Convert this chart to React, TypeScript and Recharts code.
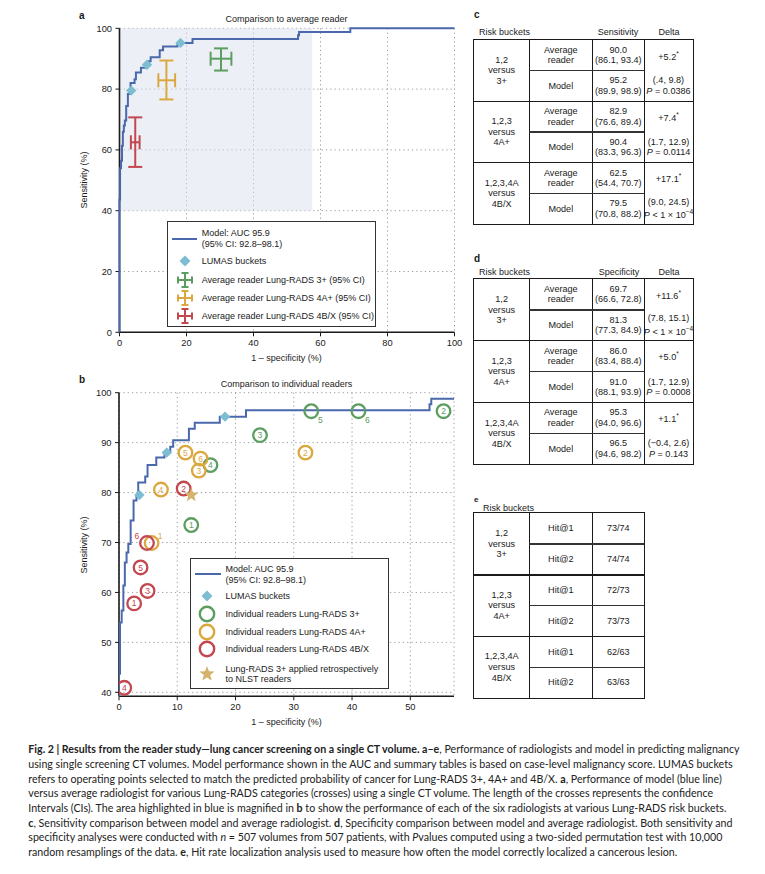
import React from "react";
import {
  ComposedChart,
  Scatter,
  XAxis,
  YAxis,
  CartesianGrid,
  ReferenceArea,
  ErrorBar,
} from "recharts";

const FONT = "'Liberation Sans', Arial, sans-serif";
const CAPTION_FONT = "Lato, 'Open Sans', sans-serif";
const BLUE = "#4a68ac";
const DIAMOND = "#7dbdd2";
const GREEN = "#5c9e5f";
const GOLD = "#dba83f";
const RED = "#c2474f";
const STAR = "#d4b36e";
const INK = "#1a1a1a";

// model ROC curve: [1 - specificity, sensitivity]
const ROC_STEPS: [number, number][] = [
  [0, 0], [0, 43.7], [0.17, 43.7], [0.17, 54.0], [0.46, 54.0], [0.46, 56.4],
  [0.75, 56.4], [0.75, 61.4], [1.0, 61.4], [1.0, 66.0], [1.3, 66.0], [1.3, 68.0],
  [1.6, 68.0], [1.6, 69.7], [2.0, 69.7], [2.0, 74.4], [2.5, 74.4], [2.5, 78.4],
  [3.0, 78.4], [3.0, 79.5], [3.3, 79.5], [3.3, 82.0], [4.5, 82.0], [4.5, 83.2],
  [4.9, 83.2], [4.9, 85.5], [6.4, 85.5], [6.4, 87.0], [7.8, 87.0], [7.8, 88.0],
  [8.8, 88.0], [8.8, 89.2], [9.3, 89.2], [9.3, 90.5], [12.0, 90.5], [12.0, 92.8],
  [13.0, 92.8], [13.0, 94.0], [17.3, 94.0], [17.3, 95.2], [21.8, 95.2], [21.8, 96.5],
  [53.3, 96.5], [53.3, 97.7], [53.6, 97.7], [53.6, 98.8], [68.9, 98.8], [68.9, 100],
  [100, 100],
];

// LUMAS operating points
const LUMAS_FPR = [3.5, 8.2, 18.2];
const LUMAS_SENS = [79.5, 88.0, 95.2];

// risk buckets
const BUCKETS = [
  ["1,2", "versus", "3+"],
  ["1,2,3", "versus", "4A+"],
  ["1,2,3,4A", "versus", "4B/X"],
];
const BUCKET_KEYS = ["3+", "4A+", "4B/X"];

// table c: sensitivity
const SENS_READER = [90.0, 82.9, 62.5];
const SENS_READER_CI = [[86.1, 93.4], [76.6, 89.4], [54.4, 70.7]];
const SENS_MODEL = [95.2, 90.4, 79.5];
const SENS_MODEL_CI = [[89.9, 98.9], [83.3, 96.3], [70.8, 88.2]];
const SENS_DELTA = ["+5.2", "+7.4", "+17.1"];
const SENS_DELTA_CI = ["(.4, 9.8)", "(1.7, 12.9)", "(9.0, 24.5)"];
const SENS_P = ["= 0.0386", "= 0.0114", "<1e-4"];

// table d: specificity
const SPEC_READER = [69.7, 86.0, 95.3];
const SPEC_READER_CI = [[66.6, 72.8], [83.4, 88.4], [94.0, 96.6]];
const SPEC_MODEL = [81.3, 91.0, 96.5];
const SPEC_MODEL_CI = [[77.3, 84.9], [88.1, 93.9], [94.6, 98.2]];
const SPEC_DELTA = ["+11.6", "+5.0", "+1.1"];
const SPEC_DELTA_CI = ["(7.8, 15.1)", "(1.7, 12.9)", "(\u22120.4, 2.6)"];
const SPEC_P = ["<1e-4", "= 0.0008", "= 0.143"];

// table e: hit rate
const HIT_LABELS = ["Hit@1", "Hit@2"];
const HIT_RATES = [["73/74", "74/74"], ["72/73", "73/73"], ["62/63", "63/63"]];

// individual readers (panel b), reader ids 1..6
const READER_IDS = [1, 2, 3, 4, 5, 6];
const R3_FPR = [12.4, 55.7, 24.2, 15.7, 33.0, 41.1];
const R3_SENS = [73.5, 96.3, 91.5, 85.5, 96.3, 96.3];
const R4A_FPR = [5.6, 32.0, 13.7, 7.2, 11.4, 14.0];
const R4A_SENS = [69.9, 88.0, 84.4, 80.6, 88.0, 86.8];
const R4B_FPR = [2.6, 11.1, 4.9, 0.9, 3.7, 4.8];
const R4B_SENS = [57.8, 80.8, 60.3, 40.9, 65.0, 69.9];
const NLST_FPR = [12.4];
const NLST_SENS = [79.5];

const A_TICKS = [0, 20, 40, 60, 80, 100];
const B_X_TICKS = [0, 10, 20, 30, 40, 50];
const B_Y_TICKS = [40, 50, 60, 70, 80, 90, 100];

// reader numbers drawn beside the circle instead of inside it
const LABEL_OFFSET: Record<string, [number, number]> = {
  "3+-5": [9, 9],
  "3+-6": [9, 9],
  "4A+-1": [8.5, -7],
  "4B/X-6": [-10, -7],
};

const roc = ROC_STEPS.map(([x, y]) => ({ x, y }));
const lumas = LUMAS_FPR.map((x, i) => ({ x, y: LUMAS_SENS[i] }));
const crosses = SENS_READER.map((s, i) => {
  const fpr = +(100 - SPEC_READER[i]).toFixed(1);
  return {
    x: fpr,
    y: s,
    ex: [fpr - (100 - SPEC_READER_CI[i][1]), 100 - SPEC_READER_CI[i][0] - fpr],
    ey: [s - SENS_READER_CI[i][0], SENS_READER_CI[i][1] - s],
  };
});
const toReaders = (fpr: number[], sens: number[], group: string) =>
  READER_IDS.map((id, i) => ({ x: fpr[i], y: sens[i], id, group }));
const readers3 = toReaders(R3_FPR, R3_SENS, "3+");
const readers4A = toReaders(R4A_FPR, R4A_SENS, "4A+");
const readers4B = toReaders(R4B_FPR, R4B_SENS, "4B/X");
const nlst = NLST_FPR.map((x, i) => ({ x, y: NLST_SENS[i] }));

const CROSS_COLORS = [GREEN, GOLD, RED];

const blank = () => <g />;

function Diamond(props: any) {
  const { cx, cy } = props;
  const r = 5.2;
  return (
    <polygon
      points={`${cx},${cy - r} ${cx + r},${cy} ${cx},${cy + r} ${cx - r},${cy}`}
      fill={DIAMOND}
    />
  );
}

function starPoints(cx: number, cy: number, ro: number, ri: number) {
  const pts: string[] = [];
  for (let i = 0; i < 10; i++) {
    const r = i % 2 === 0 ? ro : ri;
    const a = -Math.PI / 2 + (i * Math.PI) / 5;
    pts.push(`${cx + r * Math.cos(a)},${cy + r * Math.sin(a)}`);
  }
  return pts.join(" ");
}

function Star(props: any) {
  return <polygon points={starPoints(props.cx, props.cy, 7.5, 3.2)} fill={STAR} />;
}

function ReaderCircle(props: any) {
  const { cx, cy, payload, color } = props;
  const off = LABEL_OFFSET[`${payload.group}-${payload.id}`];
  return (
    <g>
      <circle cx={cx} cy={cy} r={6.8} fill="none" stroke={color} strokeWidth={2.3} />
      <text
        x={cx + (off ? off[0] : 0)}
        y={cy + (off ? off[1] : 0)}
        dy="0.36em"
        textAnchor="middle"
        fontSize={8.5}
        fontFamily={FONT}
        fill={color}
      >
        {payload.id}
      </text>
    </g>
  );
}

const tickStyle = { fontSize: 9.3, fill: INK, fontFamily: FONT };
const axisLine = { stroke: INK, strokeWidth: 1.6 };

function PanelA() {
  return (
    <ComposedChart width={470} height={370} margin={{ top: 28.3, right: 15.5, bottom: 0, left: 0 }}>
      <ReferenceArea x1={0} x2={57.5} y1={40} y2={100} fill="#d9e1ee" fillOpacity={0.5} stroke="none" />
      <CartesianGrid stroke="#a0a0a0" strokeDasharray="1.3 3" />
      <XAxis
        type="number"
        dataKey="x"
        domain={[0, 100]}
        ticks={A_TICKS}
        tick={tickStyle}
        axisLine={axisLine}
        tickLine={{ stroke: INK }}
        tickSize={4}
        tickMargin={3}
        height={37.7}
      />
      <YAxis
        type="number"
        dataKey="y"
        domain={[0, 100]}
        ticks={A_TICKS}
        tick={tickStyle}
        axisLine={axisLine}
        tickLine={{ stroke: INK }}
        tickSize={4}
        tickMargin={3.5}
        width={119.5}
      />
      <Scatter data={roc} line={{ stroke: BLUE, strokeWidth: 2 }} lineType="joint" shape={blank} isAnimationActive={false} />
      <Scatter data={lumas} shape={Diamond} isAnimationActive={false} />
      {crosses.map((c, i) => (
        <Scatter key={i} data={[c]} shape={blank} isAnimationActive={false}>
          <ErrorBar dataKey="ex" direction="x" width={7} stroke={CROSS_COLORS[i]} strokeWidth={2} isAnimationActive={false} />
          <ErrorBar dataKey="ey" direction="y" width={7} stroke={CROSS_COLORS[i]} strokeWidth={2} isAnimationActive={false} />
        </Scatter>
      ))}
    </ComposedChart>
  );
}

function PanelB() {
  return (
    <ComposedChart width={470} height={370} margin={{ top: 32.7, right: 16, bottom: 0, left: 0 }}>
      <CartesianGrid stroke="#a0a0a0" strokeDasharray="1.3 3" />
      <XAxis
        type="number"
        dataKey="x"
        domain={[0, 57.5]}
        allowDataOverflow
        ticks={B_X_TICKS}
        tick={tickStyle}
        axisLine={axisLine}
        tickLine={{ stroke: INK }}
        tickSize={4}
        tickMargin={3}
        height={33.7}
      />
      <YAxis
        type="number"
        dataKey="y"
        domain={[39.2, 100]}
        allowDataOverflow
        ticks={B_Y_TICKS}
        tick={tickStyle}
        axisLine={axisLine}
        tickLine={{ stroke: INK }}
        tickSize={4}
        tickMargin={3.5}
        width={119}
      />
      <Scatter data={roc} line={{ stroke: BLUE, strokeWidth: 2 }} lineType="joint" shape={blank} isAnimationActive={false} />
      <Scatter data={lumas} shape={Diamond} isAnimationActive={false} />
      <Scatter data={readers3} shape={(p: any) => <ReaderCircle {...p} color={GREEN} />} isAnimationActive={false} />
      <Scatter data={readers4A} shape={(p: any) => <ReaderCircle {...p} color={GOLD} />} isAnimationActive={false} />
      <Scatter data={readers4B} shape={(p: any) => <ReaderCircle {...p} color={RED} />} isAnimationActive={false} />
      <Scatter data={nlst} shape={Star} isAnimationActive={false} />
    </ComposedChart>
  );
}

// ---------- small html helpers ----------

const abs = (left: number, top: number, extra: React.CSSProperties = {}): React.CSSProperties => ({
  position: "absolute",
  left,
  top,
  ...extra,
});

function Txt({ x, y, children, bold, size = 9, anchor = "left", rotate }: any) {
  const tx = anchor === "center" ? "-50%" : "0";
  return (
    <div
      style={abs(x, y, {
        fontFamily: FONT,
        fontSize: size,
        fontWeight: bold ? "bold" : "normal",
        color: INK,
        whiteSpace: "nowrap",
        lineHeight: "12px",
        transform: rotate
          ? `translate(-50%, -50%) rotate(${rotate}deg)`
          : `translate(${tx}, -50%)`,
      })}
    >
      {children}
    </div>
  );
}

function LineIcon({ x, y, w }: any) {
  return <div style={abs(x, y - 1, { width: w, height: 2.2, background: BLUE })} />;
}

function CrossIcon({ x, y, color }: any) {
  return (
    <svg style={abs(x - 8, y - 8)} width={16} height={16}>
      <g stroke={color} strokeWidth={2}>
        <line x1={8} y1={1} x2={8} y2={15} />
        <line x1={1} y1={8} x2={15} y2={8} />
        <line x1={4.5} y1={1} x2={11.5} y2={1} />
        <line x1={4.5} y1={15} x2={11.5} y2={15} />
        <line x1={1} y1={4.5} x2={1} y2={11.5} />
        <line x1={15} y1={4.5} x2={15} y2={11.5} />
      </g>
    </svg>
  );
}

function ShapeIcon({ x, y, kind, color }: any) {
  return (
    <svg style={abs(x - 9, y - 9)} width={18} height={18}>
      {kind === "diamond" && <polygon points="9,3.5 14.5,9 9,14.5 3.5,9" fill={DIAMOND} />}
      {kind === "circle" && <circle cx={9} cy={9} r={7.2} fill="none" stroke={color} strokeWidth={2.4} />}
      {kind === "star" && <polygon points={starPoints(9, 9, 8, 3.4)} fill={STAR} />}
    </svg>
  );
}

const legendBox: React.CSSProperties = {
  border: "1.4px solid #333",
  boxSizing: "border-box",
  background: "#fff",
  zIndex: 5,
};

function LegendA() {
  const rows = [
    { label: "Average reader Lung-RADS 3+ (95% CI)", color: GREEN, y: 57.7 },
    { label: "Average reader Lung-RADS 4A+ (95% CI)", color: GOLD, y: 75.7 },
    { label: "Average reader Lung-RADS 4B/X (95% CI)", color: RED, y: 93.7 },
  ];
  return (
    <div style={abs(166.7, 221, { width: 209.3, height: 105.7, ...legendBox })}>
      <LineIcon x={4.5} y={16.5} w={25} />
      <Txt x={34} y={11}>Model: AUC 95.9</Txt>
      <Txt x={34} y={22}>(95% CI: 92.8–98.1)</Txt>
      <ShapeIcon x={17} y={39.2} kind="diamond" />
      <Txt x={34} y={39.2}>LUMAS buckets</Txt>
      {rows.map((r) => (
        <React.Fragment key={r.label}>
          <CrossIcon x={17} y={r.y} color={r.color} />
          <Txt x={34} y={r.y}>{r.label}</Txt>
        </React.Fragment>
      ))}
    </div>
  );
}

function LegendB() {
  const rows = [
    { label: "Individual readers Lung-RADS 3+", color: GREEN, y: 55.2 },
    { label: "Individual readers Lung-RADS 4A+", color: GOLD, y: 72.6 },
    { label: "Individual readers Lung-RADS 4B/X", color: RED, y: 90 },
  ];
  return (
    <div style={abs(190, 558.3, { width: 199.3, height: 131, ...legendBox })}>
      <LineIcon x={3.5} y={14.5} w={26} />
      <Txt x={34.5} y={10}>Model: AUC 95.9</Txt>
      <Txt x={34.5} y={20.5}>(95% CI: 92.8–98.1)</Txt>
      <ShapeIcon x={16} y={37.2} kind="diamond" />
      <Txt x={34.5} y={37.2}>LUMAS buckets</Txt>
      {rows.map((r) => (
        <React.Fragment key={r.label}>
          <ShapeIcon x={16} y={r.y} kind="circle" color={r.color} />
          <Txt x={34.5} y={r.y}>{r.label}</Txt>
        </React.Fragment>
      ))}
      <ShapeIcon x={16} y={115} kind="star" />
      <Txt x={34.5} y={109.5}>Lung-RADS 3+ applied retrospectively</Txt>
      <Txt x={34.5} y={120.2}>to NLST readers</Txt>
    </div>
  );
}

// ---------- tables ----------

const COLS = [55.3, 63, 52, 48.4];

function PValue({ p }: { p: string }) {
  if (p === "<1e-4")
    return (
      <span>
        <i>P</i> &lt; 1 × 10<sup style={{ fontSize: 6.5 }}>−4</sup>
      </span>
    );
  return (
    <span>
      <i>P</i> {p}
    </span>
  );
}

function Cell({ x, y, w, h, children }: any) {
  return (
    <div
      style={abs(x, y, {
        width: w,
        height: h,
        display: "flex",
        flexDirection: "column",
        alignItems: "center",
        justifyContent: "center",
        textAlign: "center",
        fontFamily: FONT,
        fontSize: 9.1,
        lineHeight: "10.6px",
        color: INK,
        whiteSpace: "nowrap",
      })}
    >
      {children}
    </div>
  );
}

function Table({ left, top, rowH, cols, rows }: any) {
  const width = cols.reduce((a: number, b: number) => a + b, 0);
  const height = rowH * 6;
  const xs = cols.map((_: number, i: number) => cols.slice(0, i).reduce((a: number, b: number) => a + b, 0));
  const lines: React.ReactNode[] = [];
  xs.slice(1).forEach((x: number, i: number) =>
    lines.push(<div key={`v${i}`} style={abs(x - 0.6, 0, { width: 1.2, height, background: INK })} />)
  );
  [2, 4].forEach((r) =>
    lines.push(<div key={`g${r}`} style={abs(0, r * rowH - 0.7, { width, height: 1.4, background: INK })} />)
  );
  [1, 3, 5].forEach((r) =>
    lines.push(
      <div key={`s${r}`} style={abs(xs[1], r * rowH - 0.7, { width: xs[2] + cols[2] - xs[1], height: 1.4, background: "#333" })} />
    )
  );
  return (
    <div style={abs(left, top, { width, height, outline: "1.5px solid " + INK })}>
      {rows.map((g: any, gi: number) => (
        <React.Fragment key={gi}>
          <Cell x={0} y={gi * 2 * rowH} w={cols[0]} h={rowH * 2}>
            {BUCKETS[gi].map((t) => (
              <div key={t}>{t}</div>
            ))}
          </Cell>
          {[0, 1].map((r) => (
            <React.Fragment key={r}>
              {g.cells[r].map((content: React.ReactNode, ci: number) => (
                <Cell key={ci} x={xs[ci + 1]} y={(gi * 2 + r) * rowH} w={cols[ci + 1]} h={rowH}>
                  {content}
                </Cell>
              ))}
            </React.Fragment>
          ))}
        </React.Fragment>
      ))}
      {lines}
    </div>
  );
}

const stat = (v: number, ci: number[]) => (
  <>
    <div>{v.toFixed(1)}</div>
    <div>
      ({ci[0].toFixed(1)}, {ci[1].toFixed(1)})
    </div>
  </>
);

const readerLabel = (
  <>
    <div>Average</div>
    <div>reader</div>
  </>
);

const deltaTop = (d: string) => (
  <div>
    {d}
    <sup style={{ fontSize: 6.5 }}>*</sup>
  </div>
);

const deltaBottom = (ci: string, p: string) => (
  <>
    <div>{ci}</div>
    <div>
      <PValue p={p} />
    </div>
  </>
);

const sensRows = BUCKET_KEYS.map((_, i) => ({
  cells: [
    [readerLabel, stat(SENS_READER[i], SENS_READER_CI[i]), deltaTop(SENS_DELTA[i])],
    ["Model", stat(SENS_MODEL[i], SENS_MODEL_CI[i]), deltaBottom(SENS_DELTA_CI[i], SENS_P[i])],
  ],
}));
const specRows = BUCKET_KEYS.map((_, i) => ({
  cells: [
    [readerLabel, stat(SPEC_READER[i], SPEC_READER_CI[i]), deltaTop(SPEC_DELTA[i])],
    ["Model", stat(SPEC_MODEL[i], SPEC_MODEL_CI[i]), deltaBottom(SPEC_DELTA_CI[i], SPEC_P[i])],
  ],
}));
const hitRows = BUCKET_KEYS.map((_, i) => ({
  cells: [
    [HIT_LABELS[0], HIT_RATES[i][0]],
    [HIT_LABELS[1], HIT_RATES[i][1]],
  ],
}));

// ---------- caption ----------

const CAPTION_LINES: React.ReactNode[] = [
  <>
    <b>Fig. 2 | Results from the reader study—lung cancer screening on a single CT volume. a–e</b>, Performance of
    radiologists and model in predicting malignancy
  </>,
  <>using single screening CT volumes. Model performance shown in the AUC and summary tables is based on case-level malignancy score. LUMAS buckets</>,
  <>
    refers to operating points selected to match the predicted probability of cancer for Lung-RADS 3+, 4A+ and 4B/X. <b>a</b>, Performance of model (blue line)
  </>,
  <>versus average radiologist for various Lung-RADS categories (crosses) using a single CT volume. The length of the crosses represents the confidence</>,
  <>
    Intervals (CIs). The area highlighted in blue is magnified in <b>b</b> to show the performance of each of the six radiologists at various Lung-RADS risk buckets.
  </>,
  <>
    <b>c</b>, Sensitivity comparison between model and average radiologist. <b>d</b>, Specificity comparison between model and average radiologist. Both sensitivity and
  </>,
  <>
    specificity analyses were conducted with <i>n</i> = 507 volumes from 507 patients, with <i>P</i>values computed using a two-sided permutation test with 10,000
  </>,
  <>
    random resamplings of the data. <b>e</b>, Hit rate localization analysis used to measure how often the model correctly localized a cancerous lesion.
  </>,
];
const CAPTION_Y = [749, 764, 778.7, 793.3, 807.8, 822.6, 837.2, 851.7];

export default function App() {
  return (
    <div style={{ position: "absolute", left: 0, top: 0, width: 765, height: 874, background: "#fff", overflow: "hidden" }}>
      <div style={abs(0, 0, { zIndex: 1 })}>
        <PanelA />
      </div>
      <div style={abs(0, 360, { zIndex: 1 })}>
        <PanelB />
      </div>
      <LegendA />
      <LegendB />

      <Txt x={79} y={16} bold size={10}>a</Txt>
      <Txt x={286.5} y={19} anchor="center">Comparison to average reader</Txt>
      <Txt x={286.5} y={358} anchor="center">1 – specificity (%)</Txt>
      <Txt x={83.5} y={180} rotate={-90}>Sensitivity (%)</Txt>

      <Txt x={79} y={379.5} bold size={10}>b</Txt>
      <Txt x={286.5} y={384} anchor="center">Comparison to individual readers</Txt>
      <Txt x={286.5} y={721.7} anchor="center">1 – specificity (%)</Txt>
      <Txt x={84} y={545} rotate={-90}>Sensitivity (%)</Txt>

      <Txt x={474} y={15} bold size={10}>c</Txt>
      <Txt x={479} y={31.7}>Risk buckets</Txt>
      <Txt x={618} y={31.7} anchor="center">Sensitivity</Txt>
      <Txt x={669} y={31.7} anchor="center">Delta</Txt>
      <Table left={474} top={40} rowH={30.7} cols={COLS} rows={sensRows} />

      <Txt x={474} y={258.5} bold size={10}>d</Txt>
      <Txt x={479} y={271.7}>Risk buckets</Txt>
      <Txt x={619} y={271.7} anchor="center">Specificity</Txt>
      <Txt x={669} y={271.7} anchor="center">Delta</Txt>
      <Table left={474} top={279} rowH={30.9} cols={COLS} rows={specRows} />

      <Txt x={474} y={500} bold size={8}>e</Txt>
      <Txt x={483} y={507.5}>Risk buckets</Txt>
      <Table left={474} top={513.3} rowH={30.8} cols={COLS.slice(0, 3)} rows={hitRows} />

      {CAPTION_LINES.map((line, i) => (
        <div
          key={i}
          style={abs(28.3, CAPTION_Y[i], {
            fontFamily: CAPTION_FONT,
            fontSize: 10.65,
            lineHeight: "14px",
            color: "#222",
            whiteSpace: "nowrap",
            transform: "translateY(-50%)",
          })}
        >
          {line}
        </div>
      ))}
    </div>
  );
}
